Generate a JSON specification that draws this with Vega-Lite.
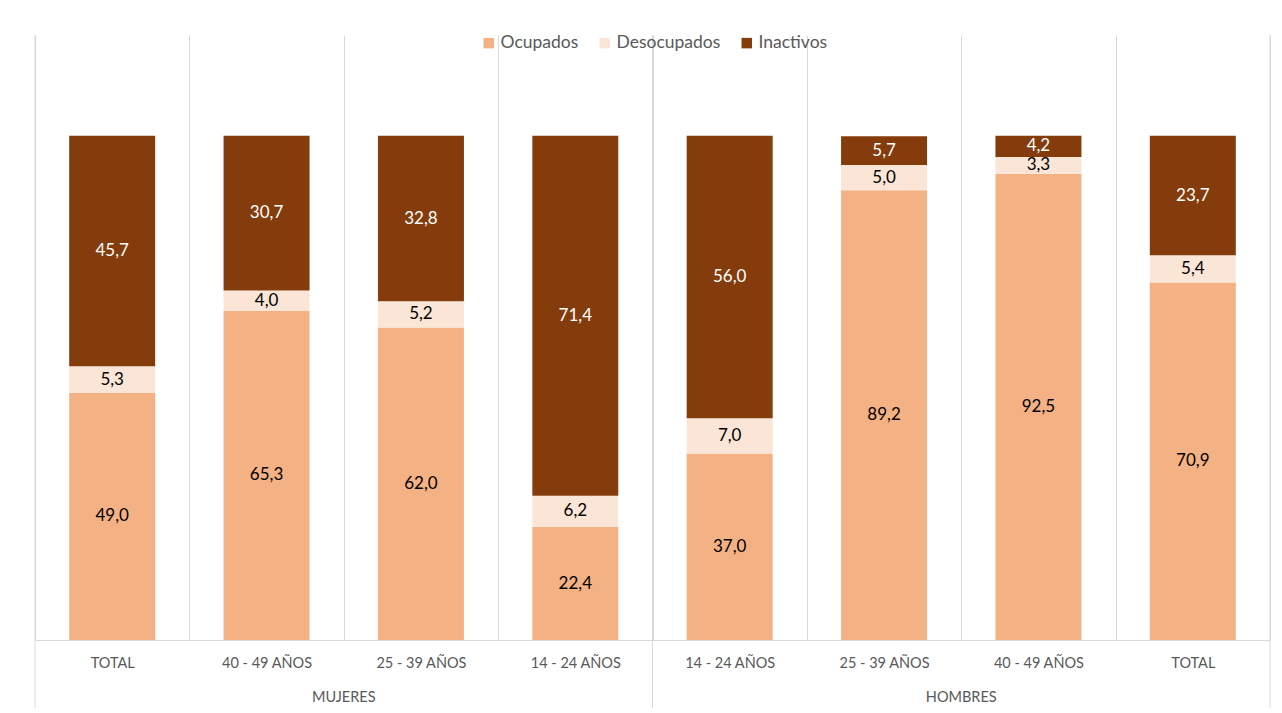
{
  "$schema": "https://vega.github.io/schema/vega-lite/v6.json",
  "width": 1235,
  "height": 605,
  "autosize": {"type": "none"},
  "padding": {"left": 35, "top": 35, "right": 12, "bottom": 73},
  "background": "white",
  "config": {
    "font": "Lato",
    "view": {"stroke": null}
  },
  "datasets": {
    "bars": [
      {"id": "TOTAL|M", "estado": "Ocupados", "orden": 1, "valor": 49.0},
      {"id": "TOTAL|M", "estado": "Desocupados", "orden": 2, "valor": 5.3},
      {"id": "TOTAL|M", "estado": "Inactivos", "orden": 3, "valor": 45.7},
      {"id": "40 - 49 AÑOS|M", "estado": "Ocupados", "orden": 1, "valor": 65.3},
      {"id": "40 - 49 AÑOS|M", "estado": "Desocupados", "orden": 2, "valor": 4.0},
      {"id": "40 - 49 AÑOS|M", "estado": "Inactivos", "orden": 3, "valor": 30.7},
      {"id": "25 - 39 AÑOS|M", "estado": "Ocupados", "orden": 1, "valor": 62.0},
      {"id": "25 - 39 AÑOS|M", "estado": "Desocupados", "orden": 2, "valor": 5.2},
      {"id": "25 - 39 AÑOS|M", "estado": "Inactivos", "orden": 3, "valor": 32.8},
      {"id": "14 - 24 AÑOS|M", "estado": "Ocupados", "orden": 1, "valor": 22.4},
      {"id": "14 - 24 AÑOS|M", "estado": "Desocupados", "orden": 2, "valor": 6.2},
      {"id": "14 - 24 AÑOS|M", "estado": "Inactivos", "orden": 3, "valor": 71.4},
      {"id": "14 - 24 AÑOS|H", "estado": "Ocupados", "orden": 1, "valor": 37.0},
      {"id": "14 - 24 AÑOS|H", "estado": "Desocupados", "orden": 2, "valor": 7.0},
      {"id": "14 - 24 AÑOS|H", "estado": "Inactivos", "orden": 3, "valor": 56.0},
      {"id": "25 - 39 AÑOS|H", "estado": "Ocupados", "orden": 1, "valor": 89.2},
      {"id": "25 - 39 AÑOS|H", "estado": "Desocupados", "orden": 2, "valor": 5.0},
      {"id": "25 - 39 AÑOS|H", "estado": "Inactivos", "orden": 3, "valor": 5.7},
      {"id": "40 - 49 AÑOS|H", "estado": "Ocupados", "orden": 1, "valor": 92.5},
      {"id": "40 - 49 AÑOS|H", "estado": "Desocupados", "orden": 2, "valor": 3.3},
      {"id": "40 - 49 AÑOS|H", "estado": "Inactivos", "orden": 3, "valor": 4.2},
      {"id": "TOTAL|H", "estado": "Ocupados", "orden": 1, "valor": 70.9},
      {"id": "TOTAL|H", "estado": "Desocupados", "orden": 2, "valor": 5.4},
      {"id": "TOTAL|H", "estado": "Inactivos", "orden": 3, "valor": 23.7}
    ],
    "grupos": [
      {"grupo": "MUJERES", "ancla": "40 - 49 AÑOS|M"},
      {"grupo": "HOMBRES", "ancla": "25 - 39 AÑOS|H"}
    ],
    "inicios": [
      {"id": "TOTAL|M"},
      {"id": "14 - 24 AÑOS|H"}
    ],
    "fin": [
      {"id": "TOTAL|H"}
    ]
  },
  "layer": [
    {
      "data": {"name": "bars"},
      "transform": [
        {"stack": "valor", "groupby": ["id"], "sort": [{"field": "orden"}], "as": ["y0", "y1"]}
      ],
      "mark": {"type": "bar", "width": {"band": 0.557}},
      "encoding": {
        "x": {
          "field": "id",
          "type": "nominal",
          "sort": null,
          "scale": {"paddingInner": 0, "paddingOuter": 0},
          "axis": {
            "title": null,
            "labelAngle": 0,
            "labelExpr": "isString(datum.value) ? split(datum.value, '|')[0] : ''",
            "labelFontSize": 14.5,
            "labelColor": "#595959",
            "labelPadding": 16,
            "ticks": false,
            "grid": true,
            "gridColor": "#d9d9d9",
            "gridWidth": 1,
            "tickBand": "extent",
            "domainColor": "#d9d9d9",
            "domainWidth": 1
          }
        },
        "y": {
          "field": "y0",
          "type": "quantitative",
          "scale": {"domain": [0, 120], "nice": false, "zero": false},
          "axis": null
        },
        "y2": {"field": "y1"},
        "color": {
          "field": "estado",
          "type": "nominal",
          "scale": {
            "domain": ["Ocupados", "Desocupados", "Inactivos"],
            "range": ["#F4B183", "#FBE5D6", "#843C0C"]
          },
          "legend": {
            "title": null,
            "orient": "none",
            "direction": "horizontal",
            "legendX": 445,
            "legendY": -1,
            "padding": 0,
            "symbolType": "square",
            "symbolSize": 110,
            "symbolStrokeWidth": 0,
            "labelFontSize": 17.5,
            "labelColor": "#595959",
            "columnPadding": 17,
            "labelOffset": 3
          }
        },
        "order": {"field": "orden"}
      }
    },
    {
      "data": {"name": "bars"},
      "transform": [
        {"stack": "valor", "groupby": ["id"], "sort": [{"field": "orden"}], "as": ["y0", "y1"]},
        {"calculate": "(datum.y0 + datum.y1) / 2", "as": "ymid"},
        {"calculate": "replace(format(datum.valor, '.1f'), '.', ',')", "as": "etiqueta"}
      ],
      "mark": {"type": "text", "fontSize": 17, "baseline": "middle", "align": "center"},
      "encoding": {
        "x": {"field": "id", "type": "nominal", "sort": null},
        "y": {"field": "ymid", "type": "quantitative"},
        "text": {"field": "etiqueta"},
        "color": {
          "condition": {"test": "datum.estado === 'Inactivos'", "value": "#ffffff"},
          "value": "#000000"
        }
      }
    },
    {
      "data": {"name": "inicios"},
      "mark": {"type": "rule", "color": "#d9d9d9", "strokeWidth": 1},
      "encoding": {
        "x": {"field": "id", "type": "nominal", "sort": null, "bandPosition": 0},
        "y": {"datum": 120},
        "y2": {"datum": -13.5}
      }
    },
    {
      "data": {"name": "fin"},
      "mark": {"type": "rule", "color": "#d9d9d9", "strokeWidth": 1},
      "encoding": {
        "x": {"field": "id", "type": "nominal", "sort": null, "bandPosition": 1},
        "y": {"datum": 120},
        "y2": {"datum": -13.5}
      }
    },
    {
      "data": {"name": "grupos"},
      "mark": {"type": "text", "fontSize": 14.5, "color": "#595959", "baseline": "middle", "align": "center"},
      "encoding": {
        "x": {"field": "ancla", "type": "nominal", "sort": null, "bandPosition": 1},
        "y": {"datum": -11.5},
        "text": {"field": "grupo"}
      }
    }
  ]
}
